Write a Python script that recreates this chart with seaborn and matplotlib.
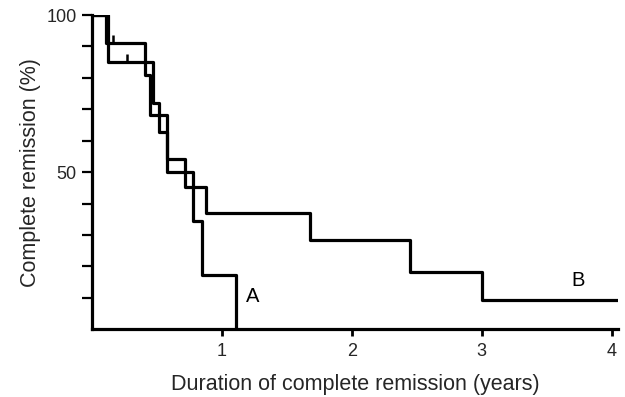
import pandas as pd
import numpy as np
import matplotlib
matplotlib.use("Agg")
import matplotlib.pyplot as plt
import seaborn as sns

# Kaplan-Meier steps (years, % in remission)
time_a = [0, 0.127, 0.467, 0.52, 0.58, 0.777, 0.846, 1.108]
surv_a = [100, 85.1, 71.9, 62.8, 50.1, 34.4, 17.2, 0]

time_b = [0, 0.108, 0.41, 0.446, 0.58, 0.715, 0.877, 1.677, 2.446, 3.0, 4.05]
surv_b = [100, 91, 80.9, 68.2, 54.3, 45.3, 37.0, 28.3, 18.2, 9.2, 9.2]

# censored observations (small upward ticks)
censor_t = [0.165, 0.27]
censor_v = [91, 85.1]

curve_labels = ["A", "B"]
label_pos_t = [1.235, 3.74]
label_pos_v = [10.3, 15.6]

x_ticks = [1, 2, 3, 4]
y_ticks = [10, 20, 30, 40, 50, 60, 70, 80, 90, 100]
y_ticklabels = ["", "", "", "", "50", "", "", "", "", "100"]

sns.set_style("ticks")
plt.rcParams['font.family'] = ['Liberation Sans', 'DejaVu Sans']

df = pd.concat([
    pd.DataFrame({"time": time_a, "surv": surv_a, "group": "A"}),
    pd.DataFrame({"time": time_b, "surv": surv_b, "group": "B"}),
])

fig = plt.figure(figsize=(6.25, 3.97), dpi=100)
ax = fig.add_axes([0.147, 0.171, 0.842, 0.791])

sns.lineplot(data=df, x="time", y="surv", hue="group", units="group",
             estimator=None, sort=False, palette=["black", "black"],
             drawstyle="steps-post", linewidth=2.3, legend=False, ax=ax)

ax.vlines(censor_t, censor_v, np.array(censor_v) + 2.6, color="black", linewidth=1.8)

for lab, t, v in zip(curve_labels, label_pos_t, label_pos_v):
    ax.text(t, v, lab, fontsize=14.5, ha="center", va="center", color="black")

ax.set_xlim(0, 4.05)
ax.set_ylim(0, 100)
ax.set_xticks(x_ticks)
ax.set_yticks(y_ticks)
ax.set_yticklabels(y_ticklabels)
ax.tick_params(axis="y", length=7, width=1.6, pad=4, labelsize=13, color="black")
ax.tick_params(axis="x", length=5, width=2, pad=5, labelsize=13, color="black")

ax.set_xlabel("Duration of complete remission (years)", fontsize=15.5, labelpad=10)
ax.set_ylabel("Complete remission (%)", fontsize=15.5, labelpad=4)

sns.despine(ax=ax)
for s in ["left", "bottom"]:
    ax.spines[s].set_linewidth(2.3)
    ax.spines[s].set_color("black")

fig.savefig("out.png", dpi=100)
